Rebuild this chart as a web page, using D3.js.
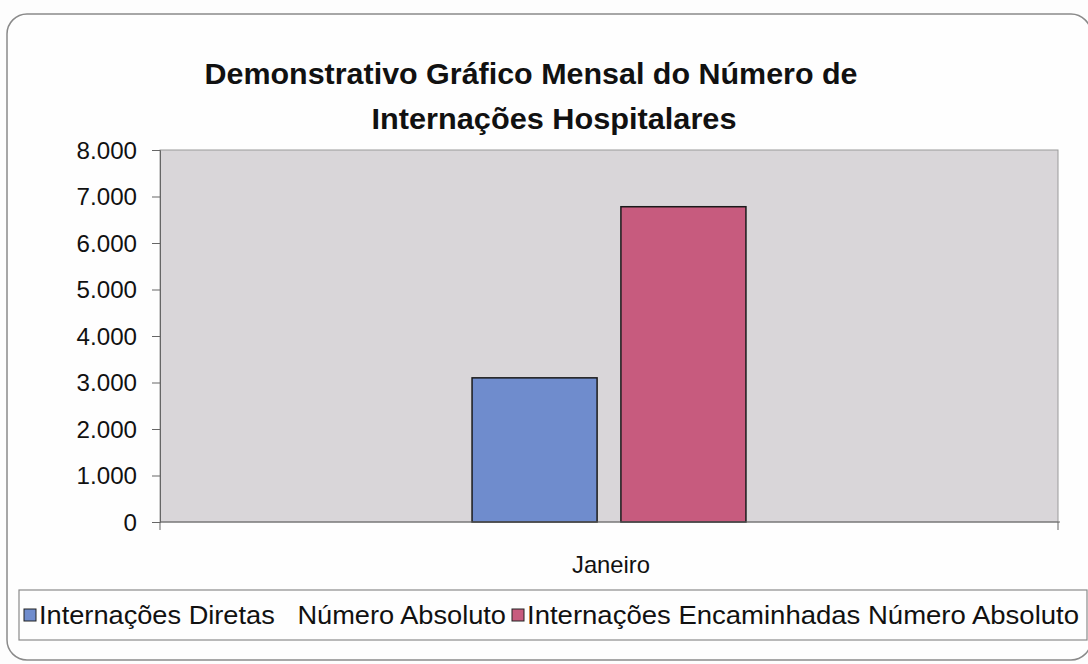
<!DOCTYPE html>
<html lang="pt">
<head>
<meta charset="utf-8">
<title>Demonstrativo Gráfico Mensal do Número de Internações Hospitalares</title>
<script src="https://d3js.org/d3.v7.min.js"></script>
<style>
  body { margin: 0; background: #fdfdfd; }
  text { font-family: Arial, "Liberation Sans", sans-serif; fill: #111; }
</style>
</head>
<body>
<div id="chart"></div>
<script>
/* global d3 */

var categories = ["Janeiro"];
var series = ["Internações Diretas   Número Absoluto", "Internações Encaminhadas Número Absoluto"];
var values = [[3100, 6780]];   // one row per category, one value per series
var colors = ["#6f8ccd", "#c75b7e"];
var yTicks = [0, 1000, 2000, 3000, 4000, 5000, 6000, 7000, 8000];
var titleLines = ["Demonstrativo Gráfico Mensal do Número de", "Internações Hospitalares"];

var width = 1088, height = 664;
var plot = {left: 160, right: 1058, top: 150, bottom: 522};

var svg = d3.select("#chart").append("svg")
    .attr("width", width)
    .attr("height", height);

// outer rounded frame
svg.append("rect")
    .attr("x", 7).attr("y", 14)
    .attr("width", 1084).attr("height", 646)
    .attr("rx", 20)
    .attr("fill", "#fefefe")
    .attr("stroke", "#8a8a8a")
    .attr("stroke-width", 1.5);

// squeeze/stretch a text to a given width (glyphs in the source are tall and narrow)
function fit(sel, w) {
    sel.attr("textLength", w).attr("lengthAdjust", "spacingAndGlyphs");
}

// title
svg.append("text")
    .attr("x", 531).attr("y", 84)
    .attr("text-anchor", "middle")
    .style("font-size", "30px").style("font-weight", "bold")
    .text(titleLines[0])
    .call(fit, 653);
svg.append("text")
    .attr("x", 554).attr("y", 129)
    .attr("text-anchor", "middle")
    .style("font-size", "30px").style("font-weight", "bold")
    .text(titleLines[1])
    .call(fit, 365);

var y = d3.scaleLinear()
    .domain([0, 8000])
    .range([plot.bottom, plot.top]);

var x0 = d3.scaleBand()
    .domain(categories)
    .range([plot.left, plot.right]);

// plot area
svg.append("rect")
    .attr("x", plot.left).attr("y", plot.top)
    .attr("width", plot.right - plot.left)
    .attr("height", plot.bottom - plot.top)
    .attr("fill", "#d9d6d9")
    .attr("stroke", "#9a9a9a")
    .attr("stroke-width", 1);

// y axis
var fmt = function(d) { return d3.format(",")(d).replace(/,/g, "."); };
var yAxis = svg.append("g")
    .attr("transform", "translate(" + plot.left + ",0)")
    .call(d3.axisLeft(y).tickValues(yTicks).tickFormat(fmt).tickSize(8).tickPadding(15));
yAxis.select(".domain").attr("stroke", "#666");
yAxis.selectAll(".tick line").attr("stroke", "#666");
yAxis.selectAll(".tick text")
    .attr("font-family", null)
    .attr("dy", "0.36em")
    .style("font-size", "23px")
    .each(function() {
        d3.select(this).call(fit, this.getComputedTextLength() * 1.05);
    });

// bars
var groupW = x0.bandwidth() * 0.305;
var x1 = d3.scaleBand()
    .domain(d3.range(series.length))
    .range([(x0.bandwidth() - groupW) / 2, (x0.bandwidth() + groupW) / 2])
    .paddingInner(0.16);

var groups = svg.selectAll("g.cat")
    .data(categories)
    .join("g")
    .attr("class", "cat")
    .attr("transform", function(d) { return "translate(" + x0(d) + ",0)"; });

groups.selectAll("rect")
    .data(function(d, i) { return values[i]; })
    .join("rect")
    .attr("x", function(d, j) { return x1(j); })
    .attr("y", function(d) { return y(d); })
    .attr("width", x1.bandwidth())
    .attr("height", function(d) { return y(0) - y(d); })
    .attr("fill", function(d, j) { return colors[j]; })
    .attr("stroke", "#1a1a1a")
    .attr("stroke-width", 1.5);

// x axis
var xAxis = svg.append("g")
    .attr("transform", "translate(0," + plot.bottom + ")");
xAxis.append("line")
    .attr("x1", plot.left).attr("x2", plot.right + 2)
    .attr("stroke", "#666");
xAxis.selectAll("line.edge")
    .data([plot.left, plot.right])
    .join("line")
    .attr("class", "edge")
    .attr("x1", function(d) { return d; }).attr("x2", function(d) { return d; })
    .attr("y1", 0).attr("y2", 8)
    .attr("stroke", "#666");
xAxis.selectAll("text")
    .data(categories)
    .join("text")
    .attr("x", function(d) { return x0(d) + x0.bandwidth() / 2 + 2; })
    .attr("y", 51)
    .attr("text-anchor", "middle")
    .style("font-size", "24px")
    .text(function(d) { return d; })
    .call(fit, 78);

// legend
var legend = svg.append("g");
legend.append("rect")
    .attr("x", 19).attr("y", 590)
    .attr("width", 1068).attr("height", 50)
    .attr("fill", "#fefefe")
    .attr("stroke", "#8a8a8a")
    .attr("stroke-width", 1.2);

var legX = [24, 512], legW = [467, 552];
var items = legend.selectAll("g.item")
    .data(series)
    .join("g")
    .attr("class", "item")
    .attr("transform", function(d, i) { return "translate(" + legX[i] + ",0)"; });
items.append("rect")
    .attr("x", 0).attr("y", 609)
    .attr("width", 12).attr("height", 12)
    .attr("fill", function(d, i) { return colors[i]; })
    .attr("stroke", "#222")
    .attr("stroke-width", 1);
items.append("text")
    .attr("x", 15).attr("y", 624)
    .attr("xml:space", "preserve")
    .style("white-space", "pre")
    .style("font-size", "25px")
    .text(function(d) { return d; })
    .each(function(d, i) { d3.select(this).call(fit, legW[i]); });
</script>
</body>
</html>
